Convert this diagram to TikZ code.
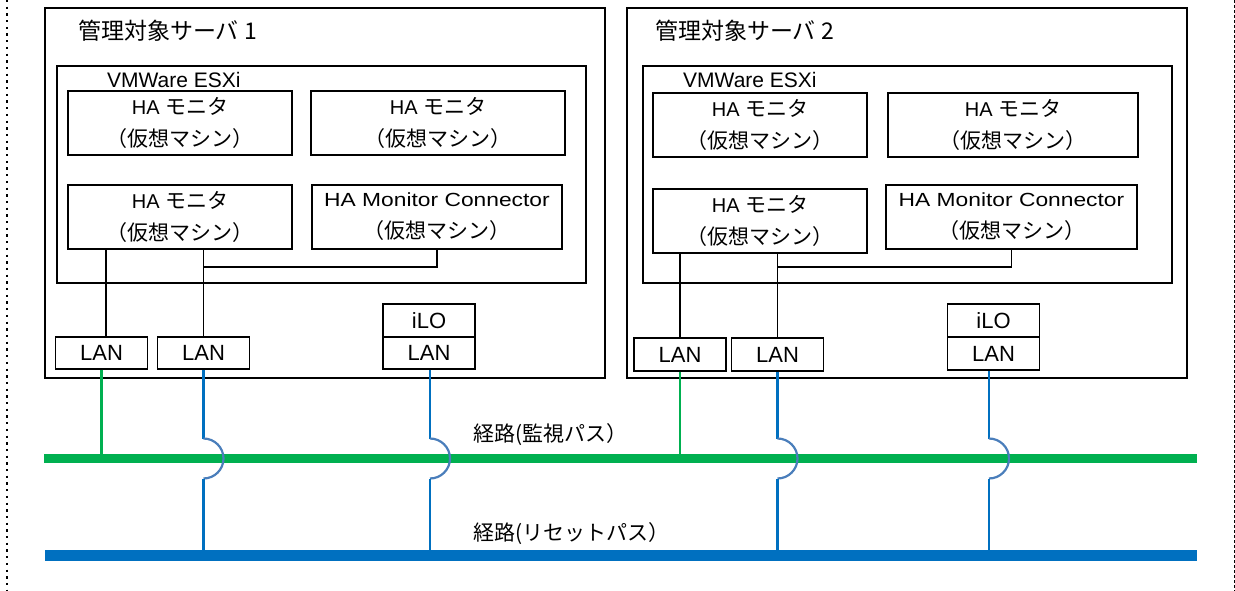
\documentclass[tikz,border=0pt]{standalone}
\usepackage{fontspec}
\setmainfont{Liberation Sans}
\newfontfamily\cjk{Noto Sans CJK JP}
\newfontfamily\widesans{Liberation Sans}[FakeStretch=1.2]
\usetikzlibrary{calc}
\definecolor{busgreen}{HTML}{00B050}
\definecolor{busblue}{HTML}{0070C0}
\definecolor{hopblue}{HTML}{4A7EBB}
\newcommand\hopwire[1]{%
  \draw[bwire] (#1) -- ($(#1 |- gbus.center)+(0,-20)$);
  \draw[hop] ($(#1 |- gbus.center)+(0,-20)$) arc[start angle=90, end angle=-90, radius=20pt];
  \draw[bwire] ($(#1 |- gbus.center)+(0,20)$) -- (#1 |- bbus.north);
}
\newcommand\jp[1]{{\cjk\fontsize{21}{32}\selectfont #1}}
\begin{document}
\begin{tikzpicture}[x=1pt,y=-1pt,
  frame/.style={draw=black, line width=1.3pt, rectangle, inner sep=0pt},
  vm/.style={frame, minimum height=64pt, align=center, font=\fontsize{20}{32}\selectfont},
  lanbox/.style={frame, minimum width=92pt, minimum height=32pt, font=\fontsize{22}{26}\selectfont},
  wire/.style={line width=1.2pt, black},
  gwire/.style={line width=2.4pt, busgreen},
  bwire/.style={line width=2.4pt, busblue},
  hop/.style={line width=2.2pt, hopblue},
  bus/.style={rectangle, inner sep=0pt, draw=none},
  lbl/.style={anchor=base west, inner sep=0pt}]
\useasboundingbox (0,0) rectangle (1235,591);

% page borders
\draw[line width=2.3pt, dash pattern=on 2.3pt off 4.4pt] (7,0) -- (7,591);
\draw[line width=0.9pt, dash pattern=on 3pt off 2pt] (1234,0) -- (1234,591);

% ---------- server 1 ----------
\node[frame, minimum width=560pt, minimum height=370pt] (srv1) at (325,193) {};
\node[lbl, font=\cjk\fontsize{23}{27}\selectfont] (t1) at (78,40) {管理対象サーバ 1};
\node[frame, minimum width=529pt, minimum height=217pt] (esx1) at (321.5,174.5) {};
\node[lbl, font=\fontsize{21}{25}\selectfont] (e1) at (107,88) {VMWare ESXi};
\node[vm, minimum width=224pt] (vm1a) at (180,123) {HA \jp{モニタ}\\\jp{（仮想マシン）}};
\node[vm, minimum width=254pt] (vm1b) at (438,123) {HA \jp{モニタ}\\\jp{（仮想マシン）}};
\node[vm, minimum width=224pt] (vm1c) at (180,217) {HA \jp{モニタ}\\\jp{（仮想マシン）}};
\node[vm, minimum width=250pt] (vm1d) at (437,217) {{\widesans\fontsize{19}{32}\selectfont HA Monitor Connector}\\\jp{（仮想マシン）}};
\node[lanbox] (lan1a) at (101.5,353) {LAN};
\node[lanbox] (lan1b) at (203.5,353) {LAN};
\node[lanbox, minimum height=33pt] (ilo1) at (429,320.5) {iLO};
\node[lanbox] (ilan1) at (429,353) {LAN};

% ---------- server 2 ----------
\node[frame, minimum width=560pt, minimum height=370pt] (srv2) at (907,193) {};
\node[lbl, font=\cjk\fontsize{23}{27}\selectfont] (t2) at (655,40) {管理対象サーバ 2};
\node[frame, minimum width=529pt, minimum height=217pt] (esx2) at (907.5,174.5) {};
\node[lbl, font=\fontsize{21}{25}\selectfont] (e2) at (683,88) {VMWare ESXi};
\node[vm, minimum width=214pt] (vm2a) at (760,125) {HA \jp{モニタ}\\\jp{（仮想マシン）}};
\node[vm, minimum width=250pt] (vm2b) at (1013,125) {HA \jp{モニタ}\\\jp{（仮想マシン）}};
\node[vm, minimum width=214pt] (vm2c) at (760,221) {HA \jp{モニタ}\\\jp{（仮想マシン）}};
\node[vm, minimum width=251pt] (vm2d) at (1011.5,217) {{\widesans\fontsize{19}{32}\selectfont HA Monitor Connector}\\\jp{（仮想マシン）}};
\node[lanbox, minimum height=33pt] (lan2a) at (680,354.5) {LAN};
\node[lanbox, minimum height=33pt] (lan2b) at (777.5,354.5) {LAN};
\node[lanbox, minimum height=33pt] (ilo2) at (993.5,320.5) {iLO};
\node[lanbox, minimum height=33pt] (ilan2) at (993.5,353.5) {LAN};

% ---------- internal wiring ----------
\coordinate (a1) at ([xshift=4.5pt]lan1a.north);
\draw[wire] (a1 |- vm1c.south) -- (a1);
\draw[wire] (lan1b.north |- vm1c.south) -- (lan1b.north);
\draw[wire] (lan1b.north |- 0,267) -| (vm1d.south);

\draw[wire] (lan2a.north |- vm2c.south) -- (lan2a.north);
\draw[wire] (lan2b.north |- vm2c.south) -- (lan2b.north);
\draw[wire] (lan2b.north |- 0,267) -| (vm2d.south);

% ---------- buses ----------
\node[bus, fill=busgreen, minimum width=1153pt, minimum height=9pt] (gbus) at (620.5,458.5) {};
\node[bus, fill=busblue, minimum width=1152pt, minimum height=11pt] (bbus) at (621,555.5) {};
\node[lbl, font=\cjk\fontsize{21}{24}\selectfont] (r1) at (473,441) {経路(監視パス）};
\node[lbl, font=\cjk\fontsize{21}{24}\selectfont] (r2) at (473,540) {経路(リセットパス）};

% ---------- network wiring ----------
\draw[gwire] (lan1a.south) -- (lan1a.south |- gbus.north);
\draw[gwire] (lan2a.south) -- (lan2a.south |- gbus.north);
\hopwire{lan1b.south}
\coordinate (b1) at ([xshift=1pt]ilan1.south);
\hopwire{b1}
\hopwire{lan2b.south}
\coordinate (b2) at ([xshift=-4.5pt]ilan2.south);
\hopwire{b2}
\end{tikzpicture}
\end{document}
